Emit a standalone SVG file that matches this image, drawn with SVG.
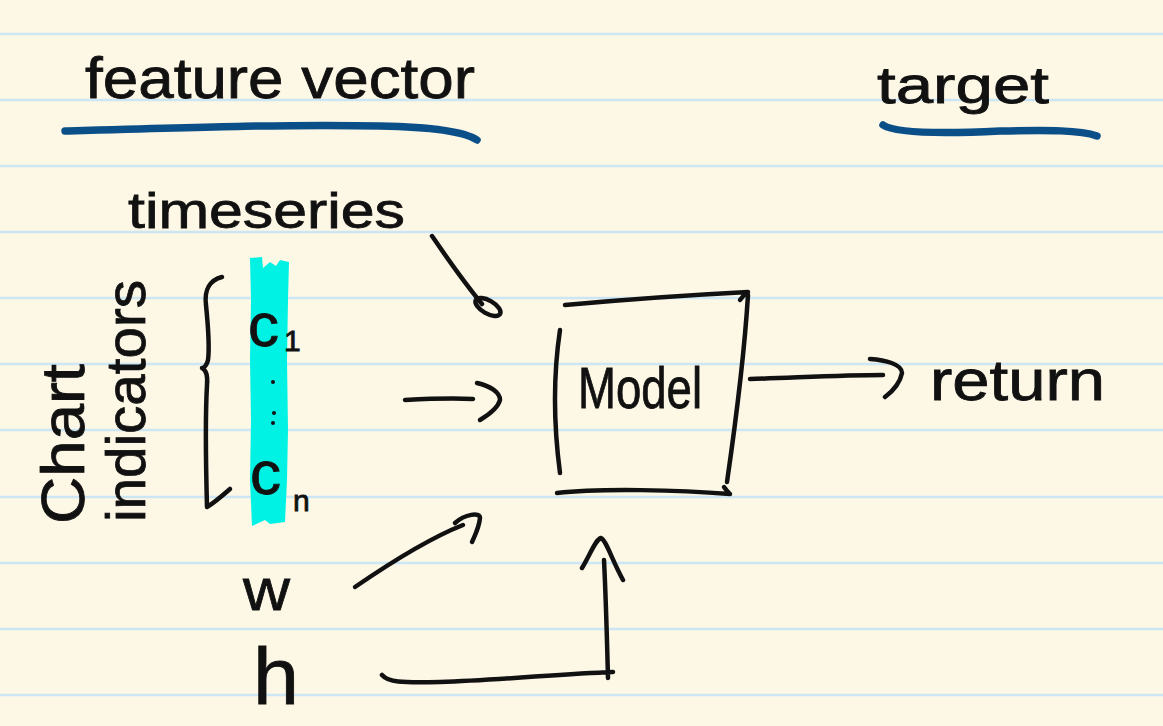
<svg xmlns="http://www.w3.org/2000/svg" width="1163" height="726" viewBox="0 0 1163 726">
<defs>
<style>
.rule{stroke:#cde6f4;stroke-width:2.5}
.ink{fill:none;stroke:#111;stroke-width:4.5;stroke-linecap:round;stroke-linejoin:round}
.blue{fill:none;stroke:#0b4f89;stroke-width:7.5;stroke-linecap:round}
.t{font-family:"Liberation Sans",Arial,sans-serif;fill:#111;stroke:#111;stroke-width:0.8}
</style>
</defs>
<rect x="0" y="0" width="1163" height="726" fill="#fdf7e6"/>
<g id="ruling">
<line class="rule" x1="0" y1="34" x2="1163" y2="34"/>
<line class="rule" x1="0" y1="100" x2="1163" y2="100"/>
<line class="rule" x1="0" y1="166" x2="1163" y2="166"/>
<line class="rule" x1="0" y1="232" x2="1163" y2="232"/>
<line class="rule" x1="0" y1="298" x2="1163" y2="298"/>
<line class="rule" x1="0" y1="364" x2="1163" y2="364"/>
<line class="rule" x1="0" y1="430" x2="1163" y2="430"/>
<line class="rule" x1="0" y1="497" x2="1163" y2="497"/>
<line class="rule" x1="0" y1="563" x2="1163" y2="563"/>
<line class="rule" x1="0" y1="629" x2="1163" y2="629"/>
<line class="rule" x1="0" y1="695" x2="1163" y2="695"/>
</g>
<g id="heading-feature">
<text class="t" x="85" y="98" font-size="58" textLength="390" lengthAdjust="spacingAndGlyphs">feature vector</text>
<path class="blue" d="M65,131 C200,127 300,124 380,126 C430,127 465,132 477,140"/>
</g>
<g id="heading-target">
<text class="t" x="877" y="103" font-size="52" textLength="172" lengthAdjust="spacingAndGlyphs">target</text>
<path class="blue" d="M883,125 C895,133 940,134 1000,131 C1050,130 1080,130 1097,136"/>
</g>
<g id="timeseries">
<text class="t" x="128" y="228" font-size="50" textLength="277" lengthAdjust="spacingAndGlyphs">timeseries</text>
</g>
<g id="chart-indicators">
<text class="t" transform="translate(84,524) rotate(-90)" font-size="62" textLength="160" lengthAdjust="spacingAndGlyphs">Chart</text>
<text class="t" transform="translate(145,522) rotate(-90)" font-size="56" textLength="242" lengthAdjust="spacingAndGlyphs">indicators</text>
<path class="ink" d="M222,277 C210,280 204,290 206,305 C208,325 210,345 208,360 C207,365 204,368 202,368 C206,370 208,374 207,385 C205,420 206,470 207,507 C214,503 222,496 230,489"/>
</g>
<g id="indicators">
<path d="M250,258 L262,257 L263,268 L270,262 L276,266 L280,260 L289,262 L288,300 L287,360 L288,430 L287,480 L285,522 L270,524 L265,520 L252,526 L250,480 L251,420 L250,360 L251,300 Z" fill="#00f2e4"/>
<text class="t" x="248" y="346" font-size="62">c</text>
<text class="t" x="284" y="351" font-size="30">1</text>
<circle cx="273" cy="382" r="2" fill="#111"/>
<circle cx="274" cy="413" r="2" fill="#111"/>
<circle cx="273" cy="423" r="2" fill="#111"/>
<text class="t" x="250" y="494" font-size="62">c</text>
<text class="t" x="293" y="511" font-size="30">n</text>
</g>
<g id="model">
<path class="ink" d="M565,305 C620,300 690,295 748,292 C745,294 742,297 740,300 M748,295 C744,360 736,420 727,482 M560,330 C554,370 553,420 560,473 M557,493 C600,488 680,490 730,494 C728,492 726,490 724,487"/>
<text class="t" x="578" y="408" font-size="58" textLength="124" lengthAdjust="spacingAndGlyphs">Model</text>
</g>
<g id="return">
<text class="t" x="930" y="400" font-size="58" textLength="175" lengthAdjust="spacingAndGlyphs">return</text>
</g>
<g id="w">
<text class="t" x="243" y="610" font-size="60" textLength="47" lengthAdjust="spacingAndGlyphs">w</text>
</g>
<g id="h">
<text class="t" x="253" y="704" font-size="80" textLength="46" lengthAdjust="spacingAndGlyphs">h</text>
</g>
<g id="connectors">
<path class="ink" d="M432,236 C445,255 462,280 482,304"/>
<ellipse class="ink" cx="488" cy="307" rx="14" ry="6.5" transform="rotate(30 488 307)"/>
<path class="ink" d="M405,400 C425,399 450,398 473,399 M477,383 C490,386 500,392 500,400 C498,408 490,414 480,420"/>
<path class="ink" d="M750,379 C790,378 840,375 883,375 M870,359 C885,360 902,364 902,373 C900,383 893,391 885,397"/>
<path class="ink" d="M355,587 C390,563 430,538 463,525 M455,523 C465,514 480,512 480,518 C479,528 475,535 472,542"/>
<path class="ink" d="M382,675 C388,682 400,683 440,682 C500,680 560,674 613,672 M608,678 C607,640 606,600 604,560 M582,568 C590,555 595,540 601,538 C606,540 612,560 623,580"/>
</g>
</svg>
